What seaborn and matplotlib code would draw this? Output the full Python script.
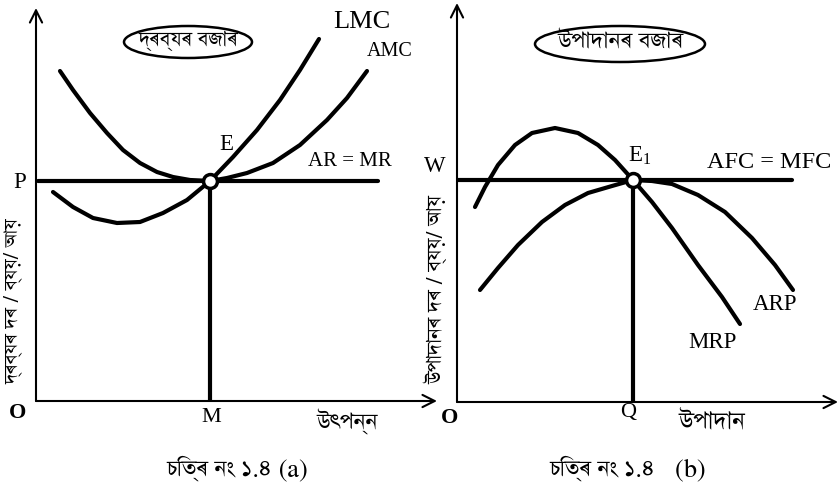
import numpy as np
import pandas as pd
import seaborn as sns
import matplotlib
matplotlib.use("Agg")
import matplotlib.pyplot as plt
from matplotlib.patches import Ellipse
from matplotlib import font_manager
from matplotlib.ft2font import FT2Font

# ---- data (panel units, origin at the axes corner) ----
# panel (a): product market
amc_x = [24, 37, 54, 71, 87, 104, 121, 137, 154, 174, 191, 211, 237, 264, 291, 311, 331]
amc_y = [330, 311, 288, 268, 251, 238, 229, 224, 221, 220, 223, 228, 238, 256, 281, 303, 330]
lmc_x = [17, 37, 57, 81, 104, 127, 151, 174, 197, 221, 244, 264, 283]
lmc_y = [209, 194, 183, 178, 179, 188, 201, 220, 244, 271, 301, 331, 362]
price_p = 220
output_m = 174
ar_line_x = [2, 342]

# panel (b): factor market
mrp_x = [18, 28, 41, 58, 75, 98, 121, 141, 158, 176, 195, 215, 241, 265, 283]
mrp_y = [195, 215, 237, 257, 269, 274, 269, 257, 242, 222, 200, 174, 137, 105, 78]
arp_x = [23, 41, 61, 85, 108, 131, 155, 176, 195, 215, 241, 268, 295, 318, 336]
arp_y = [112, 134, 157, 180, 197, 209, 216, 222, 221, 218, 207, 190, 164, 137, 112]
wage_w = 222
factor_q = 176
afc_line_x = [0, 335]


def find_font(ch):
    names = []
    for f in font_manager.fontManager.ttflist:
        try:
            if ord(ch) in FT2Font(f.fname).get_charmap():
                names.append(f.name)
        except Exception:
            pass
    for key in ("Serif", "Sans"):
        for n in names:
            if key in n and "Mono" not in n:
                return n
    for n in names:
        if "Mono" not in n:
            return n
    return names[0] if names else None


sns.set_theme(style="white")
serif = "Liberation Serif"
bn = find_font("\u09ac")
bn_family = [bn, serif] if bn else [serif, "DejaVu Sans"]
plt.rcParams["font.family"] = [serif, "DejaVu Sans"]
plt.rcParams["mathtext.fontset"] = "stix"

W, H = 839, 499
fig = plt.figure(figsize=(W / 100, H / 100), dpi=100)
fig.patch.set_facecolor("white")


def make_axes(ox, oy, right, top):
    ax = fig.add_axes([ox / W, (H - oy) / H, (right - ox) / W, (oy - top) / H])
    ax.set_xlim(0, right - ox)
    ax.set_ylim(0, oy - top)
    ax.axis("off")
    ax.patch.set_alpha(0)
    # axes with open arrowheads
    ax.annotate("", xy=(0, oy - top), xytext=(0, 0),
                arrowprops=dict(arrowstyle="->", lw=1.5, color="black",
                                mutation_scale=22, shrinkA=0, shrinkB=0))
    ax.annotate("", xy=(right - ox, 0), xytext=(0, 0),
                arrowprops=dict(arrowstyle="->", lw=1.5, color="black",
                                mutation_scale=22, shrinkA=0, shrinkB=0))
    return ax


def curve(ax, xs, ys):
    sns.lineplot(x=xs, y=ys, sort=False, color="black", linewidth=3,
                 ax=ax, legend=False)


def txt(ax, x, y, s, size, fam=None, **kw):
    ax.text(x, y, s, fontsize=size, family=fam or [serif], ha="center",
            va="center", color="black", clip_on=False, **kw)


# ---------- panel (a) ----------
axa = make_axes(36, 401, 437, 8)
curve(axa, amc_x, amc_y)
curve(axa, lmc_x, lmc_y)
axa.plot(ar_line_x, [price_p, price_p], color="black", lw=3)
axa.plot([output_m, output_m], [0, price_p], color="black", lw=3)
axa.plot([output_m], [price_p], marker="o", ms=10, mfc="white", mec="black",
         mew=2.5, zorder=5)
axa.add_patch(Ellipse((152, 359), 128, 32, fill=False, ec="black", lw=1.8))
txt(axa, 152, 360, "দ্ৰব্যৰ বজাৰ", 17, bn_family)
txt(axa, 326, 379, "LMC", 19)
txt(axa, 354, 349, "AMC", 14.5)
txt(axa, 190, 256, "E", 16.5)
txt(axa, 314, 239, "AR = MR", 15)
txt(axa, -16, 219, "P", 16.5)
txt(axa, -18, -12, "O", 16, weight="bold")
txt(axa, 175, -17, "M", 16)
txt(axa, 311, -22, "উৎপন্ন", 19, bn_family)
txt(axa, 201, -68, "চিত্ৰ নং ১.৪ (a)", 19, bn_family)
txt(axa, -22, 100, "দ্ৰব্যৰ দৰ / ব্যয়/ আয়", 16, bn_family, rotation=90)

# ---------- panel (b) ----------
axb = make_axes(457, 402, 838, 3)
curve(axb, mrp_x, mrp_y)
curve(axb, arp_x, arp_y)
axb.plot(afc_line_x, [wage_w, wage_w], color="black", lw=3)
axb.plot([factor_q, factor_q], [0, wage_w], color="black", lw=3)
axb.plot([factor_q], [wage_w], marker="o", ms=10, mfc="white", mec="black",
         mew=2.5, zorder=5)
axb.add_patch(Ellipse((163, 358), 170, 36, fill=False, ec="black", lw=1.8))
txt(axb, 163, 359, "উপাদানৰ বজাৰ", 19, bn_family)
txt(axb, -22, 236, "W", 16.5)
txt(axb, 183, 247, r"E$_\mathregular{1}$", 16.5)
txt(axb, 312, 240, "AFC = MFC", 17.5)
txt(axb, 255, 59, "MRP", 16.5)
txt(axb, 318, 97, "ARP", 16.5)
txt(axb, -7, -16, "O", 16, weight="bold")
txt(axb, 171, -11, "Q", 16)
txt(axb, 255, -22, "উপাদান", 20, bn_family)
txt(axb, 171, -67, "চিত্ৰ নং ১.৪   (b)", 19, bn_family)
txt(axb, -20, 112, "উপাদানৰ দৰ / ব্যয়/ আয়", 17, bn_family, rotation=90)

fig.savefig("out.png", dpi=100, facecolor="white")
